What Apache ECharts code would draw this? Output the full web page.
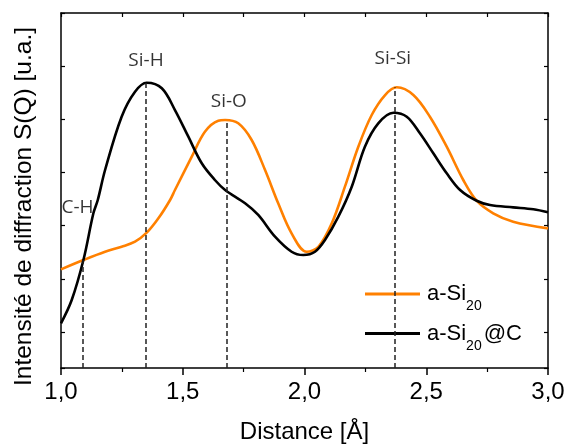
<!DOCTYPE html>
<html>
<head>
<meta charset="utf-8">
<script src="https://cdn.jsdelivr.net/npm/echarts@6/dist/echarts.min.js"></script>
<style>html,body{margin:0;padding:0;background:#fff}#c{width:567px;height:444px}</style>
</head>
<body>
<div id="c"></div>
<script>
// ---- data ----
const xOrange = [1.00,1.092,1.181,1.249,1.304,1.352,1.400,1.448,1.468,1.537,1.591,1.646,1.674,1.728,1.783,1.838,1.892,1.947,2.009,2.057,2.112,2.166,2.221,2.276,2.331,2.379,2.447,2.515,2.584,2.652,2.707,2.775,2.857,3.00];
const yOrange = [1.18,1.355,1.511,1.605,1.70,1.869,2.139,2.484,2.672,3.298,3.768,3.975,3.988,3.926,3.612,3.048,2.422,1.857,1.511,1.605,2.045,2.734,3.486,4.082,4.458,4.603,4.458,4.05,3.486,2.86,2.47,2.234,2.076,1.951];
const xBlack = [1.00,1.044,1.092,1.133,1.151,1.181,1.249,1.304,1.352,1.414,1.468,1.523,1.578,1.632,1.674,1.756,1.810,1.879,1.947,1.995,2.043,2.084,2.139,2.194,2.248,2.303,2.365,2.420,2.474,2.529,2.584,2.639,2.707,2.762,2.857,2.940,3.00];
const yBlack = [0.165,0.603,1.355,2.234,2.484,3.048,4.05,4.52,4.689,4.584,4.176,3.674,3.174,2.86,2.672,2.422,2.202,1.794,1.511,1.449,1.511,1.731,2.17,2.734,3.486,3.926,4.125,4.05,3.738,3.362,2.986,2.672,2.47,2.39,2.346,2.309,2.252];
const seriesNames = ['a-Si20', 'a-Si20@C'];
const refNames = ['C-H', 'Si-H', 'Si-O', 'Si-Si'];
const refX = [1.09, 1.35, 1.68, 2.37];
const refTop = [1.355, 4.689, 3.988, 4.603];
const refLabelX = [1.068, 1.349, 1.689, 2.363];
const refLabelY = [2.343, 5.097, 4.326, 5.144];
const xTickValues = [1.0, 1.5, 2.0, 2.5, 3.0];
const xTickLabels = ['1,0', '1,5', '2,0', '2,5', '3,0'];
const yMin = -0.675, yMax = 6;

// ---- chart ----
const chart = echarts.init(document.getElementById('c'), null, {renderer: 'canvas'});
const pair = (xs, ys) => xs.map((x, i) => [x, ys[i]]);
const AX = '"Liberation Sans", Arial, sans-serif';
const LBL = '"Open Sans", "Noto Sans", sans-serif';
const axisLine = {show: true, onZero: false, lineStyle: {color: '#000', width: 1.5}};

const option = {
  animation: false,
  backgroundColor: '#fff',
  grid: {left: 61, right: 19, top: 13, bottom: 76, containLabel: false, outerBoundsMode: 'none'},
  legend: {
    orient: 'vertical', left: 365, top: 283, padding: 0,
    data: seriesNames.map(n => ({name: n, icon: 'rect'})),
    itemWidth: 55, itemHeight: 3, itemGap: 9,
    formatter: function (n) {
      return n === 'a-Si20' ? '{m|a-Si}{s|20}' : '{m|a-Si}{s|20}{m|@C}';
    },
    textStyle: {
      rich: {
        m: {fontSize: 22, fontFamily: AX, color: '#000', padding: [0, 0, 0, 2]},
        s: {fontSize: 14, fontFamily: AX, color: '#000', padding: [25, 0, 0, 0]}
      }
    }
  },
  xAxis: [{
    type: 'value', position: 'bottom', min: 1, max: 3, interval: 0.5,
    axisLine: axisLine,
    axisTick: {show: true, inside: false, length: 7, lineStyle: {color: '#000', width: 1.5}},
    minorTick: {show: true, splitNumber: 2, length: 4, lineStyle: {color: '#000', width: 1.2}},
    splitLine: {show: false}, minorSplitLine: {show: false},
    axisLabel: {fontSize: 24, fontFamily: AX, color: '#000', margin: 12,
      formatter: v => { const i = xTickValues.findIndex(t => Math.abs(t - v) < 1e-6); return i >= 0 ? xTickLabels[i] : ''; }},
    name: 'Distance [Å]', nameLocation: 'middle', nameGap: 52,
    nameTextStyle: {fontSize: 24, fontFamily: AX, color: '#000'}
  }, {
    type: 'value', position: 'top', min: 1, max: 3, interval: 0.25,
    axisLine: axisLine,
    axisTick: {show: true, inside: true, length: 4, lineStyle: {color: '#000', width: 1.2}},
    axisLabel: {show: false}, splitLine: {show: false}
  }],
  yAxis: [{
    type: 'value', position: 'left', min: yMin, max: yMax, minInterval: 1, maxInterval: 1,
    axisLine: axisLine,
    axisTick: {show: true, inside: true, length: 4, lineStyle: {color: '#000', width: 1.2}},
    axisLabel: {show: false}, splitLine: {show: false},
    name: 'Intensité de diffraction S(Q) [u.a.]', nameLocation: 'middle', nameGap: 24,
    nameTextStyle: {fontSize: 24.5, fontFamily: AX, color: '#000', padding: [0, 32, 0, 0]}
  }, {
    type: 'value', position: 'right', min: yMin, max: yMax, minInterval: 1, maxInterval: 1,
    axisLine: axisLine,
    axisTick: {show: true, inside: true, length: 4, lineStyle: {color: '#000', width: 1.2}},
    axisLabel: {show: false}, splitLine: {show: false}
  }],
  series: [{
    name: 'refs', type: 'line', data: [], silent: true,
    markLine: {
      silent: true, symbol: ['none', 'none'], animation: false,
      label: {show: false},
      lineStyle: {type: [5, 3], color: '#222', width: 1.5},
      data: refX.map((x, i) => [{coord: [x, yMin]}, {coord: [x, refTop[i]]}])
    }
  }, {
    name: seriesNames[0], type: 'line', data: pair(xOrange, yOrange),
    smooth: 0.35, symbol: 'none', lineStyle: {color: '#ff8000', width: 2.6}, itemStyle: {color: '#ff8000'}
  }, {
    name: seriesNames[1], type: 'line', data: pair(xBlack, yBlack),
    smooth: 0.35, symbol: 'none', lineStyle: {color: '#000', width: 2.6}, itemStyle: {color: '#000'}
  }, {
    name: 'labels', type: 'scatter', symbolSize: 0, silent: true,
    data: refNames.map((n, i) => ({name: n, value: [refLabelX[i], refLabelY[i]]})),
    label: {show: true, position: 'inside', formatter: p => p.name, fontSize: 19, fontFamily: LBL, color: '#000'}
  }]
};
chart.setOption(option);
</script>
</body>
</html>
